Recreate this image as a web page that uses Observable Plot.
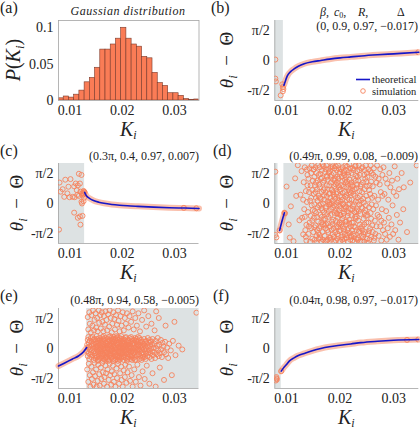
<!DOCTYPE html>
<html><head><meta charset="utf-8">
<script src="https://cdn.jsdelivr.net/npm/d3@7"></script>
<script src="https://cdn.jsdelivr.net/npm/@observablehq/plot@0.6"></script>
<style>
html,body{margin:0;padding:0;background:#fff;}
#fig{position:relative;width:420px;height:429px;overflow:hidden;font-family:'Liberation Serif','DejaVu Serif',serif;}
#fig > div.p{position:absolute;}
#fig svg text{font-family:'Liberation Serif','DejaVu Serif',serif;}
#ov{position:absolute;left:0;top:0;pointer-events:none;}
</style></head><body><div id="fig"></div>
<script>
// ---------- shared axes ----------
const xDomain = [0.0078, 0.0347];
const xTicks = [0.01, 0.02, 0.03];
const xTickLabels = ["0.01", "0.02", "0.03"];
const angDomain = [-2.1, 2.1];
const angTicks = [-Math.PI / 2, 0, Math.PI / 2];
const angTickLabels = ["-π/2", "0", "π/2"];
const pTicks = [0, 0.05, 0.1];
const pTickLabels = ["0", "0.05", "0.1"];
const pDomain = [0, 0.11];

// ---------- (a) histogram ----------
const histLeft = [0.0078,0.0088,0.0098,0.0108,0.0118,0.0128,0.0138,0.0148,0.0158,0.0168,0.0178,0.0188,0.0198,0.0208,0.0218,0.0228,0.0238,0.0248,0.0258,0.0268,0.0278,0.0288,0.0298,0.0308,0.0318,0.0328,0.0338];
const histP = [0.003,0.0055,0.004,0.008,0.0136,0.025,0.031,0.045,0.070,0.070,0.077,0.085,0.100,0.085,0.077,0.074,0.060,0.058,0.038,0.024,0.020,0.010,0.010,0.0064,0.002,0.001,0.0014];
const histWidth = 0.001;

// ---------- curves: [K x1e4, (θi−Θ) x100] ----------
const bCurve = [[95,-130],[97,-114],[100,-90],[103,-73],[108,-57],[114,-44],[122,-30],[133,-17],[148,-7],[164,0],[180,7],[200,14],[220,19],[240,24],[270,30],[300,35],[347,43]];
const cCurve = [[128,58],[130,47],[133,36],[138,26],[145,16],[155,7],[165,1],[180,-5],[195,-9],[210,-12],[230,-15],[260,-19],[290,-22],[320,-24],[347,-26]];
const dCurve = [[87,-141],[91,-97],[96,-49]];
const eCurve = [[78,-92],[89,-77],[104,-56],[117,-38],[126,-17],[132,5]];
const fCurve = [[90,-119],[94,-103],[99,-87],[105,-66],[114,-49],[122,-37],[133,-26],[148,-12],[164,0],[180,9],[200,17],[220,24],[239,31],[270,38],[300,43],[347,47]];

// ---------- shaded (unlocked) K ranges, x1e4 ----------
const bGray = [[78,94]];
const cGray = [[78,128]];
const dGray = [[78,84],[95,347]];
const eGray = [[132,347]];
const fGray = [[78,90]];

// ---------- simulation points: [K x1e4, (θi−Θ) x100] ----------
const bPts = [[79,5],[79,-95],[80,-110],[89,-183],[92,-125],[93,-140],[93,-162],[94,-150],[346,43]];
const cPts = [[80,110],[91,125],[82,62],[108,90],[101,128],[111,105],[117,156],[122,150],[119,105],[115,95],[113,70],[120,62],[123,53],[125,55],[126,48],[124,44],[117,40],[114,45],[105,35],[99,33],[89,35],[95,53],[109,33],[122,9],[123,0],[126,12],[108,-48],[119,-68],[124,-65],[115,-75],[120,-111],[79,-137],[97,88],[86,75],[127,30],[128,58],[127,62],[126,66],[318,-23],[342,-25]];
const fPts = [[81,-157],[80,-168],[82,-162],[81,-150],[90,-119],[325,45],[346,47]];
const dPts = [
[79,167],[79,-165],[81,-178],[87,-141],[96,-49],
[97,-52],[100,89],[104,-110],[106,-179],[108,-15],[113,-198],[116,132],[118,40],[121,201],[124,-88],[126,46],[129,-75],[131,-162],[128,170],
[132,112],[133,-30],[134,190],[135,-140],[136,65],[137,-195],[138,8],[139,150],[134,-70],[137,-112],[139,95],[131,20],[136,-175],[138,178],
[140,-45],[141,130],[141,-160],[142,60],[143,-100],[143,185],[144,15],[144,-200],[145,95],[145,-65],[146,160],[146,-130],[147,-10],[147,200],[148,70],[148,-185],[149,120],[149,-35],[142,-120],[146,30],[148,-90],[150,178],
[150,-150],[151,50],[151,-75],[152,140],[152,-5],[153,-190],[153,95],[154,190],[154,-115],[155,30],[155,-50],[156,160],[156,-170],[157,75],[157,-140],[158,-20],[158,120],[159,202],[159,-95],[160,40],[151,180],[153,-40],[155,110],[156,-205],[157,-70],[158,15],[159,-155],[152,-125],[154,60],[160,-185],
[160,150],[161,-10],[161,-130],[162,85],[162,190],[163,-60],[163,-180],[164,25],[164,130],[165,-100],[165,-200],[166,60],[166,175],[167,-35],[167,-150],[168,110],[168,0],[169,-85],[169,195],[170,45],[161,100],[162,-165],[163,155],[164,-120],[165,-25],[166,-70],[167,205],[168,-190],[169,70],[170,-45],[162,30],[164,-5],[166,135],[168,-110],
[170,120],[171,-170],[171,20],[172,165],[172,-80],[173,-130],[173,60],[174,200],[174,-15],[175,-195],[175,95],[176,-55],[176,140],[177,-105],[177,10],[178,180],[178,-150],[179,50],[179,-40],[180,-180],[171,80],[172,-200],[173,180],[174,-110],[175,35],[176,-140],[177,125],[178,-70],[179,160],[180,5],[171,-115],[173,-25],[175,145],[177,-190],[179,-5],[180,95],
[181,-120],[181,170],[182,30],[182,-60],[183,110],[183,-190],[184,0],[184,150],[185,-95],[185,70],[186,-160],[186,195],[187,-20],[187,125],[188,-130],[188,45],[189,-200],[189,90],[190,-50],[190,185],[181,55],[182,-180],[183,-30],[184,-140],[185,205],[186,15],[187,-85],[188,160],[189,-10],[190,120],[182,140],[184,75],[186,-110],[188,-175],[189,35],[181,-5],[183,190],[187,60],
[191,-150],[191,25],[192,100],[192,-90],[193,175],[193,-10],[194,-185],[194,60],[195,140],[195,-55],[196,-125],[196,200],[197,15],[197,-170],[198,85],[198,-35],[199,155],[199,-100],[200,-200],[200,40],[191,130],[192,-195],[193,-120],[194,110],[195,5],[196,-75],[197,185],[198,-145],[199,70],[200,-60],[191,-40],[193,50],[195,-160],[197,130],[199,-15],[192,195],[194,-50],[196,95],[198,-110],[200,165],
[201,-140],[201,75],[202,180],[202,-25],[203,-175],[203,35],[204,120],[204,-80],[205,-120],[205,190],[206,0],[206,-200],[207,90],[207,-50],[208,150],[208,-150],[209,-15],[209,60],[210,-95],[210,200],[201,10],[202,-110],[203,140],[204,-190],[205,55],[206,-65],[207,170],[208,-30],[209,-165],[210,110],[201,-60],[203,-100],[205,-5],[207,-135],[209,125],[202,95],[204,20],[206,160],[208,-185],[210,35],
[211,-110],[211,140],[212,45],[212,-180],[213,-40],[213,195],[214,100],[214,-140],[215,-5],[215,-200],[216,70],[216,165],[217,-85],[217,20],[218,-155],[218,125],[219,-30],[219,185],[220,-120],[220,55],[211,-20],[212,85],[213,-165],[214,-65],[215,150],[216,-130],[217,205],[218,0],[219,-190],[220,100],[212,-95],[214,30],[216,-50],[218,60],[220,-170],[211,175],[213,115],[217,-105],
[221,-60],[221,160],[222,20],[222,-140],[223,95],[223,-195],[224,-15],[224,185],[225,-100],[225,50],[226,130],[226,-170],[227,-45],[227,75],[228,-125],[228,195],[229,10],[229,-80],[230,145],[230,-185],[221,110],[222,-100],[223,-30],[224,-160],[225,175],[226,-5],[227,-200],[228,40],[229,120],[230,-40],[222,65],[224,90],[226,-120],[228,-70],[221,-175],[229,200],
[231,-140],[231,80],[232,170],[232,-30],[233,-190],[233,30],[234,120],[234,-90],[235,-150],[235,200],[236,-5],[236,65],[237,-110],[237,150],[238,-55],[238,-200],[239,100],[239,15],[240,-170],[240,185],[231,-70],[233,140],[235,-40],[237,40],[239,-130],[232,100],[234,-180],[236,175],[238,90],[240,-20],[234,10],[236,-145],
[241,60],[241,-120],[242,190],[242,-25],[243,-175],[243,110],[244,5],[244,-80],[245,150],[245,-200],[246,-50],[246,75],[247,-150],[247,130],[248,-10],[248,200],[249,-100],[249,40],[250,-185],[250,160],[242,-140],[244,-160],[246,175],[248,-65],[250,90],[243,25],[245,-110],[247,-35],[249,115],[241,-200],
[251,-60],[251,140],[252,20],[252,-160],[253,180],[253,-100],[254,-20],[255,95],[255,-190],[256,-130],[256,50],[257,200],[257,-50],[258,115],[258,-175],[259,-5],[259,160],[260,-115],[254,70],[256,170],[258,-80],[260,30],[252,-205],[254,-145],
[261,90],[261,-150],[262,-30],[263,185],[263,-195],[264,40],[265,-90],[266,140],[266,-160],[267,-10],[268,110],[268,-120],[269,200],[270,-60],[264,-180],[262,150],
[271,20],[272,-170],[272,130],[273,-70],[275,180],[275,-120],[276,60],[277,-195],[278,-30],[279,150],[280,-140],[274,100],[277,-90],[279,40],
[281,190],[282,-100],[283,50],[284,-160],[285,130],[286,-40],[287,-190],[288,105],[289,-130],[290,20],
[291,-75],[292,160],[293,-175],[294,85],[296,-110],[297,120],[298,-10],[299,-160],[300,60],
[302,195],[303,-140],[305,40],[306,-60],[307,130],[309,-190],[310,75],
[312,-100],[315,160],[318,-30],[319,85],[325,-150],[331,110],[343,200]
];
const ePts = [
[133,20],[133,-15],[134,45],[134,-40],[135,5],[135,60],[136,-25],[136,30],[137,-55],[137,10],[138,40],[138,-5],[139,-30],[140,55],
[140,-20],[141,15],[141,-45],[142,35],[142,-10],[143,60],[143,-35],[144,0],[144,25],[145,-60],[145,45],[146,-15],[146,20],[147,-40],[147,50],[148,5],[148,-25],[149,35],[149,-50],[150,10],
[150,-35],[151,25],[151,-5],[152,50],[152,-45],[153,15],[153,-20],[154,40],[154,-60],[155,0],[155,30],[156,-30],[156,55],[157,-10],[157,20],[158,-50],[158,40],[159,5],[159,-25],[160,30],[151,65],[153,-65],[155,-40],[157,45],[159,-5],[152,10],[154,-15],[156,-55],
[160,-15],[161,40],[161,-40],[162,10],[162,60],[163,-25],[163,25],[164,-55],[164,0],[165,45],[165,-10],[166,20],[166,-35],[167,55],[167,-60],[168,5],[168,30],[169,-20],[169,-45],[170,15],[161,-5],[163,-65],[165,65],[167,-25],[169,35],[162,-30],[164,50],[166,0],[168,-50],[170,-35],
[171,25],[171,-20],[172,50],[172,-45],[173,0],[173,35],[174,-30],[174,60],[175,-5],[175,-60],[176,20],[176,45],[177,-15],[177,-40],[178,10],[178,30],[179,-50],[179,55],[180,-10],[180,25],[171,-55],[173,-25],[175,40],[177,65],[179,0],[172,15],[174,-65],[176,-35],[178,-25],[180,45],[171,5],[175,15],
[181,-30],[181,40],[182,10],[182,-55],[183,25],[183,-15],[184,60],[184,-40],[185,0],[185,35],[186,-20],[186,-60],[187,15],[187,50],[188,-35],[188,5],[189,30],[189,-10],[190,-45],[190,55],[181,-5],[183,-65],[185,-25],[187,-40],[189,65],[182,35],[184,15],[186,45],[188,-55],[190,20],[183,50],[187,-5],
[191,20],[191,-35],[192,-5],[192,45],[193,-50],[193,10],[194,30],[194,-20],[195,55],[195,-60],[196,0],[196,25],[197,-30],[197,40],[198,-10],[198,65],[199,-45],[199,15],[200,35],[200,-25],[191,60],[193,-15],[195,-40],[197,5],[199,50],[192,-65],[194,-45],[196,-15],[198,20],[200,0],[194,5],[198,-50],
[201,-20],[201,30],[202,50],[202,-40],[203,5],[203,-60],[204,25],[204,-10],[205,45],[205,-35],[206,10],[206,-25],[207,60],[207,-50],[208,-5],[208,35],[209,-30],[209,15],[210,-55],[210,40],[201,0],[203,40],[205,-15],[207,20],[209,-65],[202,15],[204,-45],[206,55],[208,-20],[210,5],
[211,20],[211,-45],[212,-10],[212,45],[213,30],[213,-30],[214,0],[214,55],[215,-55],[215,15],[216,-20],[216,35],[217,-40],[217,5],[218,50],[218,-15],[219,25],[219,-60],[220,-5],[220,40],[211,-20],[213,10],[215,-35],[217,60],[219,-35],[212,20],[216,0],[218,-45],
[221,-25],[221,30],[222,5],[222,-50],[223,45],[223,-10],[224,20],[224,-35],[225,55],[225,0],[226,-20],[226,-60],[227,35],[227,10],[228,-40],[228,50],[229,-5],[229,25],[230,-30],[230,15],[222,-20],[224,-60],[226,40],[228,-10],[230,60],[223,25],
[231,0],[231,40],[232,-30],[232,20],[233,-55],[233,55],[234,10],[234,-15],[235,30],[235,-40],[236,-5],[236,45],[237,-25],[237,15],[238,-50],[238,35],[239,5],[239,-20],[240,25],[240,-45],[233,-5],[237,-60],
[241,20],[241,-30],[242,-5],[242,50],[243,-45],[243,15],[244,35],[244,-15],[245,5],[245,-55],[246,40],[246,-25],[247,-5],[247,25],[248,-40],[249,10],[249,55],[250,-20],
[251,30],[251,-10],[252,-45],[253,15],[253,45],[254,-25],[255,0],[255,35],[256,-55],[257,20],[257,-15],[258,50],[259,-35],[260,5],
[261,-20],[262,25],[263,-50],[264,40],[265,0],[266,-30],[267,15],[268,55],[269,-10],[270,-40],
[271,20],[272,-25],[274,45],[275,-5],[276,-45],[277,30],[279,10],[280,-20],
[282,35],[284,-30],[286,5],[288,-50],[290,25],[293,-10],[297,40],[302,-35],[308,15],[315,-5],
[134,165],[135,100],[137,190],[138,130],[140,85],[141,175],[143,120],[144,200],[146,95],[147,150],[149,185],[150,110],[152,160],[153,90],[155,200],[156,135],[158,175],[159,105],[161,190],[162,140],[164,90],[165,170],[167,125],[168,195],[170,150],[171,95],[173,180],[175,115],[176,200],[178,160],[180,85],[181,130],[183,190],[185,155],[186,100],[188,175],[190,125],[192,200],[193,145],[195,90],[197,170],[199,120],[201,190],[203,95],[205,160],[207,130],[209,185],[212,110],[214,170],[217,140],[220,195],[222,100],[225,160],[228,120],[231,185],[234,90],[238,150],[242,200],[246,115],[250,170],[256,130],[262,95],[270,160],[283,120],[342,188],[300,140],[265,195],
[133,-110],[135,-175],[136,-80],[138,-140],[139,-200],[141,-95],[142,-160],[144,-125],[145,-190],[147,-75],[148,-145],[150,-110],[151,-200],[153,-170],[154,-85],[156,-135],[157,-195],[159,-100],[160,-160],[162,-75],[163,-125],[165,-185],[166,-150],[168,-90],[169,-130],[171,-200],[172,-110],[174,-165],[176,-80],[177,-140],[179,-190],[180,-120],[182,-90],[184,-175],[185,-135],[187,-200],[189,-105],[190,-155],[192,-80],[194,-185],[196,-130],[198,-95],[199,-165],[201,-200],[203,-115],[205,-150],[206,-85],[208,-180],[210,-125],[213,-95],[215,-170],[218,-140],[220,-200],[223,-110],[226,-175],[229,-85],[232,-150],[235,-195],[239,-120],[243,-160],[247,-90],[252,-185],[258,-130],[264,-200],[272,-100],[280,-165],[295,-140]
];

// ---------- text ----------
const panelLetters = ["(a)", "(b)", "(c)", "(d)", "(e)", "(f)"];
const paramHeads = ["β", "c", "R", "Δ"];
const paramValues = ["(0, 0.9, 0.97, −0.017)", "(0.3π, 0.4, 0.97, 0.007)", "(0.49π, 0.99, 0.08, −0.009)", "(0.48π, 0.94, 0.58, −0.005)", "(0.04π, 0.98, 0.97, −0.017)"];
const legendLabels = ["theoretical", "simulation"];
const histTitle = "Gaussian distribution";

// ---------- styling ----------
const COL = {salmon: "#f6825c", bar: "#fa7c56", barEdge: "#7a3a2b", blue: "#1616c8", gray: "#dde2e3", axis: "#a3a3a3", text: "#222"};
const FONT = "'Liberation Serif', 'DejaVu Serif', serif";
const fig = document.getElementById("fig");

const toPts = arr => arr.map(([k, y]) => ({K: k / 1e4, y: y / 100}));
const toRanges = arr => arr.map(([a, b]) => ({a: a / 1e4, b: b / 1e4}));
const fmtX = d => xTickLabels[xTicks.indexOf(d)];
const fmtA = d => angTickLabels[angTicks.indexOf(d)];
const fmtP = d => pTickLabels[pTicks.indexOf(d)];

const COLS = [{left: 0, ml: 58, mr: 11.5}, {left: 210, ml: 64.3, mr: 1.7}];
const ROW_TOPS = [0, 143, 288];

function place(el, col, row) {
  const d = document.createElement("div");
  d.className = "p";
  d.style.left = COLS[col].left + "px";
  d.style.top = ROW_TOPS[row] + "px";
  d.appendChild(el);
  fig.appendChild(d);
}

function base(col) {
  return {
    width: 210, height: 143, marginTop: 20, marginBottom: 43,
    marginLeft: COLS[col].ml, marginRight: COLS[col].mr,
    style: {fontFamily: FONT, fontSize: "14px", color: COL.text, background: "transparent", overflow: "visible"},
    x: {domain: xDomain, ticks: xTicks, tickFormat: fmtX, tickSize: 0, tickPadding: 5, label: null}
  };
}

// (a)
const hist = histLeft.map((x, i) => ({x1: x, x2: x + histWidth, p: histP[i]}));
place(Plot.plot({
  ...base(0),
  y: {domain: pDomain, ticks: pTicks, tickFormat: fmtP, tickSize: 0, tickPadding: 5, label: null},
  marks: [
    Plot.rectY(hist, {x1: "x1", x2: "x2", y: "p", fill: COL.bar, stroke: COL.barEdge, strokeWidth: 0.6, clip: true}),
    Plot.frame({stroke: COL.axis, strokeWidth: 0.8})
  ]
}), 0, 0);

function angPanel(col, row, gray, curve, pts) {
  const c = curve ? toPts(curve) : null;
  place(Plot.plot({
    ...base(col),
    y: {domain: angDomain, ticks: angTicks, tickFormat: fmtA, tickSize: 0, tickPadding: 5, label: null},
    marks: [
      Plot.rect(toRanges(gray), {x1: "a", x2: "b", fill: COL.gray}),
      Plot.ruleX([xDomain[0]], {stroke: COL.axis, strokeWidth: 0.8}),
      Plot.ruleY([angDomain[0]], {stroke: COL.axis, strokeWidth: 0.8}),
      c ? Plot.line(c, {x: "K", y: "y", stroke: COL.salmon, strokeWidth: 6, strokeOpacity: 0.5, curve: "monotone-x"}) : null,
      Plot.dot(toPts(pts), {x: "K", y: "y", r: 2.5, stroke: COL.salmon, strokeWidth: 0.9, fill: "none", clip: true}),
      c ? Plot.line(c, {x: "K", y: "y", stroke: COL.blue, strokeWidth: 1.6, curve: "monotone-x"}) : null
    ]
  }), col, row);
}

angPanel(1, 0, bGray, bCurve, bPts);
angPanel(0, 1, cGray, cCurve, cPts);
angPanel(1, 1, dGray, dCurve, dPts);
angPanel(0, 2, eGray, eCurve, ePts);
angPanel(1, 2, fGray, fCurve, fPts);

// ---------- overlay text ----------
let s = `<svg id="ov" xmlns="http://www.w3.org/2000/svg" width="420" height="429" font-family="${FONT}" fill="${COL.text}">`;
const letterPos = [[0, 13], [211, 13], [0, 156], [213, 156], [0, 301], [213, 301]];
panelLetters.forEach((t, i) => { s += `<text x="${letterPos[i][0]}" y="${letterPos[i][1]}" font-size="16">${t}</text>`; });
s += `<text x="128" y="15" font-size="12" font-style="italic" text-anchor="middle" letter-spacing="0.5">${histTitle}</text>`;
// x labels
for (let col = 0; col < 2; col++) for (let row = 0; row < 3; row++) {
  const cx = col ? 346.3 : 128.3, by = ROW_TOPS[row] + 100 + 36;
  s += `<text x="${cx}" y="${by}" font-size="20" text-anchor="middle"><tspan font-style="italic">K</tspan><tspan font-style="italic" font-size="12" dy="2.5">i</tspan></text>`;
}
// y labels
s += `<text transform="translate(20,60) rotate(-90)" font-size="20" text-anchor="middle"><tspan font-style="italic">P</tspan>(<tspan font-style="italic">K</tspan><tspan font-style="italic" font-size="13" dy="4">i</tspan><tspan dy="-4">)</tspan></text>`;
[[1, 0], [0, 1], [1, 1], [0, 2], [1, 2]].forEach(([col, row]) => {
  const cx = col ? 233 : 23, cy = ROW_TOPS[row] + 60;
  s += `<text transform="translate(${cx},${cy}) rotate(-90)" font-size="19" text-anchor="middle"><tspan font-style="italic">θ</tspan><tspan font-style="italic" font-size="13" dy="4">i</tspan><tspan dy="-4">\u2002\u2212\u2002Θ</tspan></text>`;
});
// parameter annotations
s += `<g font-size="12"><text x="320" y="16"><tspan font-style="italic">${paramHeads[0]}</tspan>,</text>`;
s += `<text x="334" y="16"><tspan font-style="italic">${paramHeads[1]}</tspan><tspan font-size="8" dy="2">0</tspan><tspan dy="-2">,</tspan></text>`;
s += `<text x="358" y="16"><tspan font-style="italic">${paramHeads[2]}</tspan>,</text>`;
s += `<text x="397" y="16">${paramHeads[3]}</text>`;
const valPos = [[418, 30], [199, 160], [418, 160], [199, 304], [418, 304]];
paramValues.forEach((t, i) => { s += `<text x="${valPos[i][0]}" y="${valPos[i][1]}" text-anchor="end">${t}</text>`; });
s += `</g>`;
// legend in (b)
s += `<line x1="356" x2="370" y1="79.5" y2="79.5" stroke="${COL.blue}" stroke-width="1.6"/>`;
s += `<circle cx="363" cy="91" r="2.3" fill="none" stroke="${COL.salmon}" stroke-width="0.9"/>`;
s += `<text x="372" y="82.5" font-size="10.5">${legendLabels[0]}</text><text x="372" y="94.5" font-size="10.5">${legendLabels[1]}</text>`;
s += `</svg>`;
fig.insertAdjacentHTML("beforeend", s);
</script></body></html>
